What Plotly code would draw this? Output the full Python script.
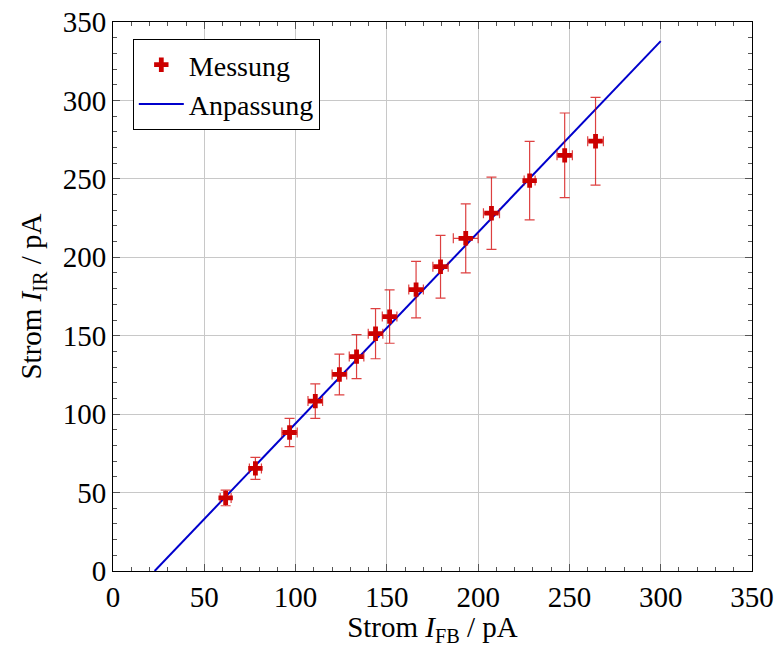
import plotly.graph_objects as go

x_fb = [61.7, 78.0, 96.7, 110.8, 124.0, 133.4, 143.8, 151.5, 166.0, 179.4, 193.2, 207.3, 228.2, 247.4, 264.3]
y_ir = [46.6, 65.4, 88.3, 108.3, 125.3, 136.7, 151.3, 162.2, 179.4, 194.0, 212.1, 228.1, 248.9, 265.0, 274.0]
x_err = [3.0, 3.3, 4.2, 4.0, 4.0, 4.0, 4.0, 4.0, 4.0, 4.2, 6.8, 4.4, 3.0, 4.2, 4.3]
y_err = [5.0, 7.0, 9.0, 11.0, 13.0, 14.0, 16.0, 17.0, 18.0, 20.0, 22.0, 23.0, 25.0, 27.0, 28.0]

# Fit line endpoints
fit_x = [22.8, 300.0]
fit_y = [0.0, 337.8]

red = "#cc0000"
blue = "#0000cc"
font_family = "Liberation Serif, Times New Roman, serif"

fig = go.Figure()
fig.add_trace(go.Scatter(
    x=fit_x, y=fit_y, mode="lines", name="Anpassung",
    line=dict(color=blue, width=2),
))
fig.add_trace(go.Scatter(
    x=x_fb, y=y_ir, mode="markers", name="Messung",
    marker=dict(symbol="cross", size=12, color=red, line=dict(width=0)),
    error_x=dict(type="data", array=x_err, color="rgba(210,0,0,0.75)", thickness=1.2, width=5),
    error_y=dict(type="data", array=y_err, color="rgba(210,0,0,0.75)", thickness=1.2, width=5),
))

axis_common = dict(
    showline=True, linecolor="black", linewidth=1, mirror="ticks",
    ticks="inside", ticklen=7, tickcolor="#555", tickwidth=1,
    showgrid=True, gridcolor="#c8c8c8", gridwidth=1,
    zeroline=False, automargin=False, ticklabeloverflow="allow",
    minor=dict(ticks="inside", ticklen=4, dtick=10, tickcolor="#555", showgrid=False),
    tickfont=dict(family=font_family, size=29, color="black"),
    dtick=50, tick0=0,
)

fig.update_xaxes(range=[0, 350], **axis_common,
                 title=dict(text="Strom <i>I</i><sub>FB</sub> / pA",
                            font=dict(family=font_family, size=29, color="black"), standoff=5))
fig.update_yaxes(range=[0, 350], **axis_common,
                 title=dict(text="Strom <i>I</i><sub>IR</sub> / pA",
                            font=dict(family=font_family, size=29, color="black"), standoff=12))

fig.update_layout(
    width=774, height=647,
    margin=dict(l=113, r=22, t=22, b=76),
    plot_bgcolor="white", paper_bgcolor="white",
    font=dict(family=font_family, color="black"),
    legend=dict(
        x=0.031, y=0.969, xanchor="left", yanchor="top",
        bgcolor="white", bordercolor="black", borderwidth=1,
        font=dict(family=font_family, size=28, color="black"),
        traceorder="reversed", itemwidth=45,
    ),
)

fig.write_html("out.html",
               config={"displayModeBar": False},
               post_script="document.body.style.margin='0';document.body.style.overflow='hidden';")
